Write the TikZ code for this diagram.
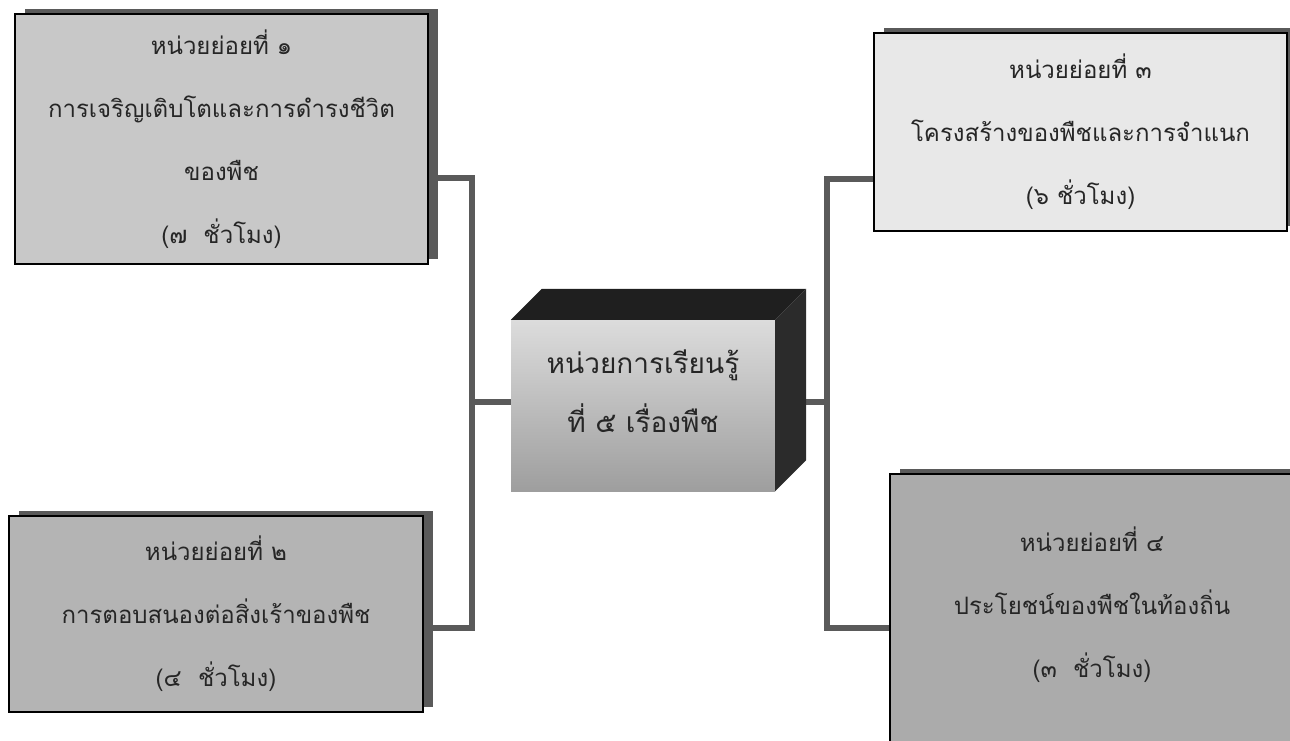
\documentclass[tikz,border=0pt]{standalone}
\usepackage{fontspec}
\newfontfamily\thaifont[Script=Thai]{Loma}
\usetikzlibrary{shadows,backgrounds}

\definecolor{shadowgray}{HTML}{5A5A5A}
\definecolor{unitone}{HTML}{C8C8C8}
\definecolor{unittwo}{HTML}{B4B4B4}
\definecolor{unitthree}{HTML}{E8E8E8}
\definecolor{unitfour}{HTML}{ABABAB}
\definecolor{hubtop}{HTML}{DCDCDC}
\definecolor{hubbottom}{HTML}{9E9E9E}

\begin{document}
\begin{tikzpicture}[x=1pt,y=-1pt,
    unit/.style={draw=black,line width=1.5pt,align=center,inner sep=0pt,
      text=black!85,font=\thaifont\fontsize{24}{63}\selectfont,
      drop shadow={shadow xshift=10pt,shadow yshift=5pt,fill=shadowgray,opacity=1}},
    link/.style={draw=shadowgray,line width=6.5pt,line join=miter}]
                \useasboundingbox (0,0) rectangle (1290,741);
                \clip (0,0) rectangle (1290,741);
                % sub units
                \node [unit,fill=unitone,minimum width=413,minimum height=250] (u1) at (221.5,139)
                    {หน่วยย่อยที่ ๑\\การเจริญเติบโตและการดำรงชีวิต\\ของพืช\\(๗~~ชั่วโมง)};
                \node [unit,fill=unittwo,minimum width=414,minimum height=196] (u2) at (216,614)
                    {หน่วยย่อยที่ ๒\\การตอบสนองต่อสิ่งเร้าของพืช\\(๔~~ชั่วโมง)};
                \node [unit,fill=unitthree,minimum width=413,minimum height=198] (u3) at (1080.5,132)
                    {หน่วยย่อยที่ ๓\\โครงสร้างของพืชและการจำแนก\\(๖ ชั่วโมง)};
                \node [unit,fill=unitfour,minimum width=404,minimum height=382] (u4) at (1092,665)
                    {หน่วยย่อยที่ ๔\\ประโยชน์ของพืชในท้องถิ่น\\(๓~~ชั่วโมง)\\~\\~};
                % the learning unit (box)
                \node [top color=hubtop,bottom color=hubbottom,minimum width=264,minimum height=171,
                    inner sep=0pt,align=center,text=black!85,text depth=28pt,
                    font=\thaifont\fontsize{28}{59}\selectfont] (hub) at (643,405.5)
                    {หน่วยการเรียนรู้\\ที่ ๕ เรื่องพืช};
                \fill [black!88] (hub.north west) -- ++(31,-31) -- ([shift={(31,-31)}]hub.north east) -- (hub.north east) -- cycle;
                \fill [black!83] (hub.north east) -- ++(31,-31) -- ([shift={(31,-31)}]hub.south east) -- (hub.south east) -- cycle;
                % connectors
                \coordinate (lt) at (472,402);
                \coordinate (rt) at (827,402);
                \begin{scope}[on background layer]
                \draw [link] ([yshift=-39pt]u1.east) -| (lt) |- ([yshift=-14pt]u2.east);
                \draw [link] (lt) -- (lt -| hub.west);
                \draw [link] ([yshift=-47pt]u3.west) -| (rt) |- ([yshift=37pt]u4.west);
                \draw [link] (rt) -- (rt -| hub.east);
                \end{scope}
            \end{tikzpicture}
\end{document}
